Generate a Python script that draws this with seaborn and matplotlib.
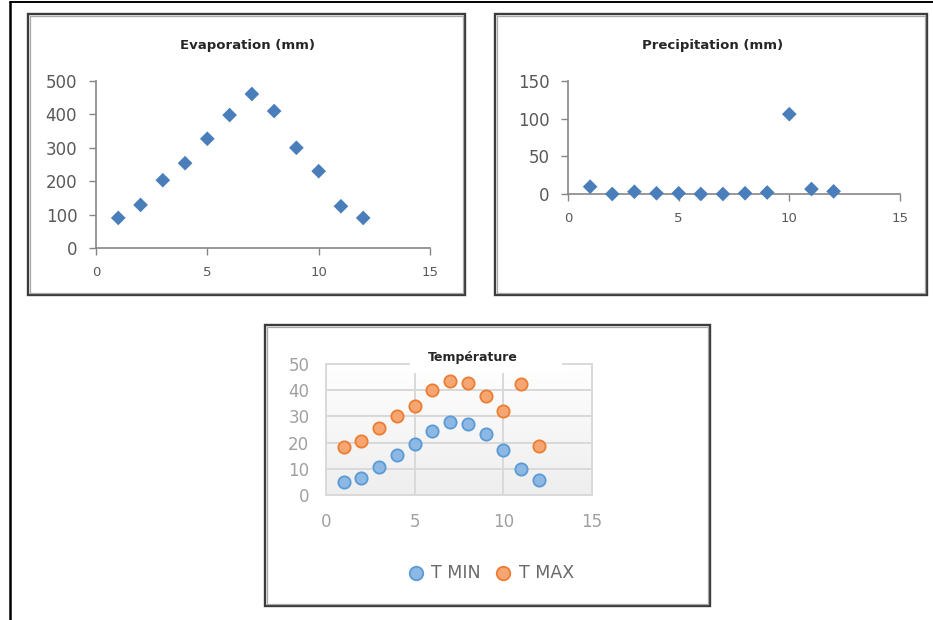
import numpy as np
import pandas as pd
import matplotlib
matplotlib.use("Agg")
import matplotlib.pyplot as plt
import seaborn as sns
from matplotlib.patches import Rectangle
from matplotlib.lines import Line2D
from matplotlib.colors import LinearSegmentedColormap

# ---------------- data ----------------
months = list(range(1, 13))
evaporation = [90, 129, 203, 254, 327, 398, 461, 410, 300, 230, 125, 90]
precipitation = [9.7, 0, 3, 1, 1, 0, 0, 1, 2, 106, 6.6, 3.5]
t_min = [4.8, 6.4, 10.6, 15.1, 19.5, 24.5, 27.8, 27.0, 23.3, 17.3, 10.1, 5.6]
t_max = [18.5, 20.8, 25.6, 30.1, 33.9, 40.2, 43.6, 42.6, 37.8, 32.1, 42.3, 18.8]
x_ticks = [0, 5, 10, 15]
evap_ticks = [0, 100, 200, 300, 400, 500]
precip_ticks = [0, 50, 100, 150]
temp_ticks = [0, 10, 20, 30, 40, 50]

sns.set_theme(style="white")
plt.rcParams["font.family"] = ["DejaVu Sans"]

W, H = 933, 620
fig = plt.figure(figsize=(W / 100, H / 100), dpi=100)
fig.patch.set_facecolor("white")


def fax(l, t, r, b):
    return fig.add_axes([l / W, 1 - b / H, (r - l) / W, (b - t) / H])


def fx(x):
    return x / W


def fy(y):
    return 1 - y / H


def rect_px(l, t, r, b, **kw):
    return Rectangle((fx(l), fy(b)), (r - l) / W, (b - t) / H,
                     transform=fig.transFigure, **kw)


def box(l, t, r, b):
    fig.patches.append(rect_px(l, t, r, b, fill=False, edgecolor="#3c3c3c",
                               linewidth=1.7, zorder=2))
    fig.patches.append(rect_px(l + 2.2, t + 2.2, r - 2.2, b - 2.2, fill=False,
                               edgecolor="#a8a8a8", linewidth=0.9, zorder=2))


# outer frame (left + top lines)
fig.lines.append(Line2D([fx(10), fx(10)], [fy(2), fy(620)], transform=fig.transFigure,
                        color="black", linewidth=1.8))
fig.lines.append(Line2D([fx(10), fx(933)], [fy(2), fy(2)], transform=fig.transFigure,
                        color="black", linewidth=1.4))

box(28, 14, 465, 295)
box(495, 14, 927, 295)
box(265, 325, 710, 606)

blue = "#4A7EBB"
axis_gray = "#868686"
label_gray = "#595959"


def style_simple(ax, yticks, ylim):
    ax.set_xlim(0, 15)
    ax.set_ylim(*ylim)
    ax.set_xticks(x_ticks)
    ax.set_yticks(yticks)
    for s in ["top", "right"]:
        ax.spines[s].set_visible(False)
    for s in ["left", "bottom"]:
        ax.spines[s].set_color(axis_gray)
        ax.spines[s].set_linewidth(1.2)
    ax.tick_params(axis="both", direction="out", length=5, width=1, color=axis_gray,
                   left=True, bottom=True)
    ax.tick_params(axis="y", labelsize=12, labelcolor=label_gray, pad=8.5)
    ax.tick_params(axis="x", labelsize=9.5, labelcolor=label_gray, pad=8)
    ax.set_xlabel("")
    ax.set_ylabel("")
    ax.set_facecolor("none")
    ax.grid(False)


# ---------------- panel 1 ----------------
ax1 = fax(96, 81, 430, 248)
sns.scatterplot(x=months, y=evaporation, marker="D", color=blue, s=56,
                edgecolor="none", ax=ax1, clip_on=False, zorder=3)
style_simple(ax1, evap_ticks, (0, 500))
fig.text(fx(248), fy(45), "Evaporation (mm)", ha="center", va="center",
         fontsize=9.5, fontweight="bold", color="#262626")

# ---------------- panel 2 ----------------
ax2 = fax(568, 81, 900, 194)
sns.scatterplot(x=months, y=precipitation, marker="D", color=blue, s=56,
                edgecolor="none", ax=ax2, clip_on=False, zorder=3)
style_simple(ax2, precip_ticks, (0, 150))
fig.text(fx(713), fy(45), "Precipitation (mm)", ha="center", va="center",
         fontsize=9.5, fontweight="bold", color="#262626")

# ---------------- panel 3 ----------------
ax3 = fax(326, 364, 592, 495)
grad = np.linspace(0, 1, 256).reshape(-1, 1)
cmap = LinearSegmentedColormap.from_list("g", ["#FFFFFF", "#EEEEEE"])
ax3.imshow(grad, extent=[0, 15, 0, 50], aspect="auto", cmap=cmap, origin="upper", zorder=0)
sns.scatterplot(x=months, y=t_min, marker="o", color="#8DB8E4", edgecolor="#5B9BD5",
                linewidth=1.3, s=78, ax=ax3, label="T MIN", zorder=3)
sns.scatterplot(x=months, y=t_max, marker="o", color="#F5A673", edgecolor="#ED7D31",
                linewidth=1.3, s=78, ax=ax3, label="T MAX", zorder=3)
ax3.set_xlim(0, 15)
ax3.set_ylim(0, 50)
ax3.set_xticks(x_ticks)
ax3.set_yticks(temp_ticks)
ax3.set_axisbelow(True)
ax3.grid(True, color="#D9D9D9", linewidth=1.4)
for s in ax3.spines.values():
    s.set_color("#D9D9D9")
    s.set_linewidth(1.4)
ax3.tick_params(axis="both", length=0, labelsize=12, labelcolor="#A0A0A0")
ax3.tick_params(axis="y", pad=12)
ax3.tick_params(axis="x", pad=13)
ax3.set_xlabel("")
ax3.set_ylabel("")
ax3.legend(loc="center", bbox_to_anchor=(fx(488), fy(573)), bbox_transform=fig.transFigure,
           ncol=2, frameon=False, fontsize=12.5, handlelength=1.6, handletextpad=0.1,
           columnspacing=0.5, labelcolor="#6a6a6a", markerscale=1.1)

# white box behind title hiding top gridline
fig.patches.append(rect_px(410, 350, 562, 373, facecolor="white", edgecolor="none", zorder=3))
fig.text(fx(473), fy(358), "Température", ha="center", va="center",
         fontsize=9, fontweight="bold", color="#262626", zorder=4)

fig.savefig("out.png", dpi=100)
